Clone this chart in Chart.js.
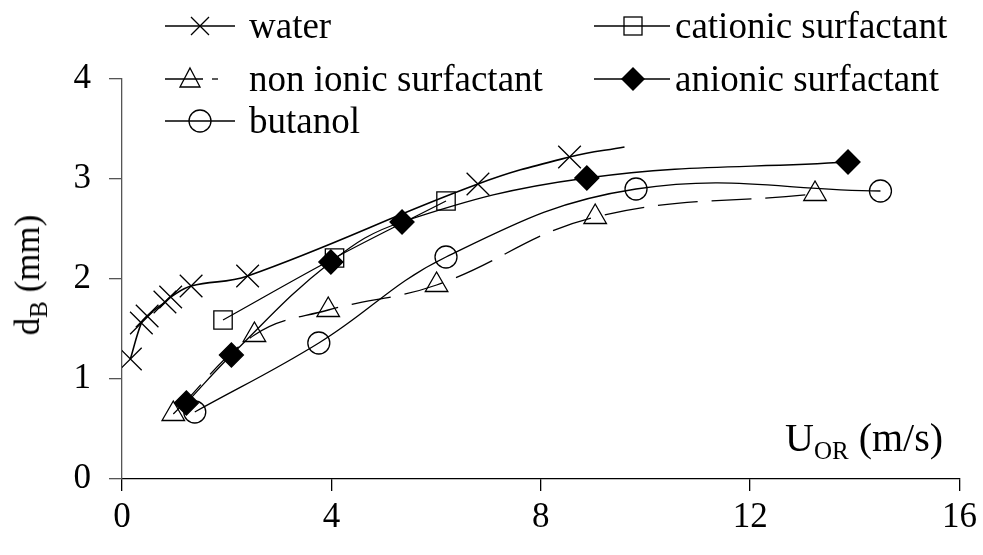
<!DOCTYPE html>
<html>
<head>
<meta charset="utf-8">
<script src="https://cdn.jsdelivr.net/npm/chart.js@4.4.1/dist/chart.umd.min.js"></script>
<style>
  html, body { margin: 0; padding: 0; background: #fff; }
  #wrap { position: relative; width: 983px; height: 555px; font-family: "Liberation Serif", "Times New Roman", serif; color: #000; }
  #chart { position: absolute; left: 0; top: 0; }
  .lg { position: absolute; height: 36px; white-space: nowrap; display: flex; align-items: center; }
  .lg svg { margin-right: 14px; flex: none; }
  .lg span { font-size: 37px; line-height: 36px; display: inline-block; }
  .ttl { position: absolute; font-size: 35px; white-space: nowrap; }
  .ttl sub { font-size: 25px; vertical-align: -8px; line-height: 0; }
</style>
</head>
<body>
<div id="wrap">
  <canvas id="chart" width="983" height="555"></canvas>

  <div class="lg" style="left:165px; top:8px;">
    <svg width="70" height="36"><line x1="0" y1="18" x2="70" y2="18" stroke="#000" stroke-width="1.3"/><path d="M26 9 L44 27 M44 9 L26 27" stroke="#000" stroke-width="1.3"/></svg><span>water</span>
  </div>
  <div class="lg" style="left:594px; top:8px;">
    <svg width="76" height="36" style="margin-right:5px"><line x1="0" y1="18" x2="76" y2="18" stroke="#000" stroke-width="1.3"/><rect x="30" y="9" width="18" height="18" fill="none" stroke="#000" stroke-width="1.3"/></svg><span>cationic surfactant</span>
  </div>
  <div class="lg" style="left:165px; top:61px;">
    <svg width="70" height="36"><line x1="0" y1="18" x2="38" y2="18" stroke="#000" stroke-width="1.3"/><line x1="47" y1="18" x2="53" y2="18" stroke="#000" stroke-width="1.3"/><path d="M25 7 L35 26 L15 26 Z" fill="none" stroke="#000" stroke-width="1.3"/></svg><span>non ionic surfactant</span>
  </div>
  <div class="lg" style="left:594px; top:61px;">
    <svg width="76" height="36" style="margin-right:5px"><line x1="0" y1="18" x2="76" y2="18" stroke="#000" stroke-width="1.3"/><path d="M39 6 L51 18 L39 30 L27 18 Z" fill="#000"/></svg><span>anionic surfactant</span>
  </div>
  <div class="lg" style="left:165px; top:103px;">
    <svg width="70" height="36"><line x1="0" y1="18" x2="70" y2="18" stroke="#000" stroke-width="1.3"/><circle cx="35" cy="18" r="11" fill="none" stroke="#000" stroke-width="1.3"/></svg><span>butanol</span>
  </div>

  <div class="ttl" style="left:28px; top:275px; transform: translate(-50%, -50%) rotate(-90deg);">d<sub>B</sub> (mm)</div>
  <div class="ttl" style="left:785px; top:414px; font-size:40px;">U<sub>OR</sub> (m/s)</div>
</div>

<script>
// values
const waterX = [0.16, 0.37, 0.48, 0.82, 0.93, 1.32, 2.40, 6.80, 8.55, 9.60];
const waterY = [1.20, 1.56, 1.63, 1.77, 1.82, 1.93, 2.03, 2.95, 3.22, 3.32];

const cationicX = [1.93, 4.06, 6.19];
const cationicY = [1.59, 2.21, 2.78];

const nonIonicX = [0.98, 2.53, 3.94, 6.01, 9.04, 13.24];
const nonIonicY = [0.65, 1.44, 1.69, 1.94, 2.62, 2.85];

const anionicX = [1.23, 2.09, 3.99, 5.35, 8.88, 13.87];
const anionicY = [0.76, 1.24, 2.17, 2.57, 3.01, 3.17];

const butanolX = [1.39, 3.76, 6.19, 9.82, 14.49];
const butanolY = [0.67, 1.36, 2.22, 2.90, 2.88];

const xTicks = [0, 4, 8, 12, 16];
const yTicks = [0, 1, 2, 3, 4];

function pts(xs, ys) {
  return xs.map((x, i) => ({ x: x, y: ys[i] }));
}

function serie(label, xs, ys, style, radius, fill, dash) {
  return {
    label: label,
    data: pts(xs, ys),
    borderColor: '#000',
    borderWidth: 1.3,
    borderDash: dash || [],
    tension: 0.4,
    pointStyle: style,
    pointRadius: radius,
    pointBorderColor: '#000',
    pointBorderWidth: 1.3,
    pointBackgroundColor: fill,
    fill: false
  };
}

// the water curve ends past its last cross, without a marker
const waterRadius = waterX.map((x, i) => i === waterX.length - 1 ? 0 : 16);

const datasets = [
  serie('water', waterX, waterY, 'crossRot', waterRadius, 'transparent'),
  serie('cationic surfactant', cationicX, cationicY, 'rect', 13, 'transparent'),
  serie('non ionic surfactant', nonIonicX, nonIonicY, 'triangle', 13, 'transparent', [40, 14]),
  serie('anionic surfactant', anionicX, anionicY, 'rectRot', 12, '#000'),
  serie('butanol', butanolX, butanolY, 'circle', 11, 'transparent')
];
datasets[0].borderWidth = 1.6;

const tickFont = { family: "'Liberation Serif', 'Times New Roman', serif", size: 35 };

new Chart(document.getElementById('chart'), {
  type: 'line',
  data: { datasets: datasets },
  options: {
    responsive: false,
    animation: false,
    layout: { padding: { top: 79, right: 19, left: 0, bottom: 0 } },
    plugins: { legend: { display: false }, tooltip: { enabled: false } },
    scales: {
      x: {
        type: 'linear',
        min: 0, max: 16,
        afterBuildTicks: s => { s.ticks = xTicks.map(v => ({ value: v })); },
        afterFit: s => { s.height = 76; },
        border: { color: '#000', width: 1.3 },
        grid: { drawOnChartArea: false, drawTicks: true, tickLength: 12, color: '#000', lineWidth: 1.3 },
        ticks: { color: '#000', font: tickFont, padding: 6, maxRotation: 0 }
      },
      y: {
        type: 'linear',
        min: 0, max: 4,
        afterBuildTicks: s => { s.ticks = yTicks.map(v => ({ value: v })); },
        afterFit: s => { s.width = 122; },
        border: { color: '#555', width: 1.3 },
        grid: { drawOnChartArea: false, drawTicks: true, tickLength: 13, color: '#555', lineWidth: 1.3 },
        ticks: { color: '#000', font: tickFont, padding: 18 }
      }
    }
  },
  plugins: [{
    id: 'noClip',
    beforeDatasetsDraw: c => { c.data.datasets.forEach((d, i) => { c.getDatasetMeta(i).dataset.options.clip = false; }); }
  }]
});
</script>
</body>
</html>
